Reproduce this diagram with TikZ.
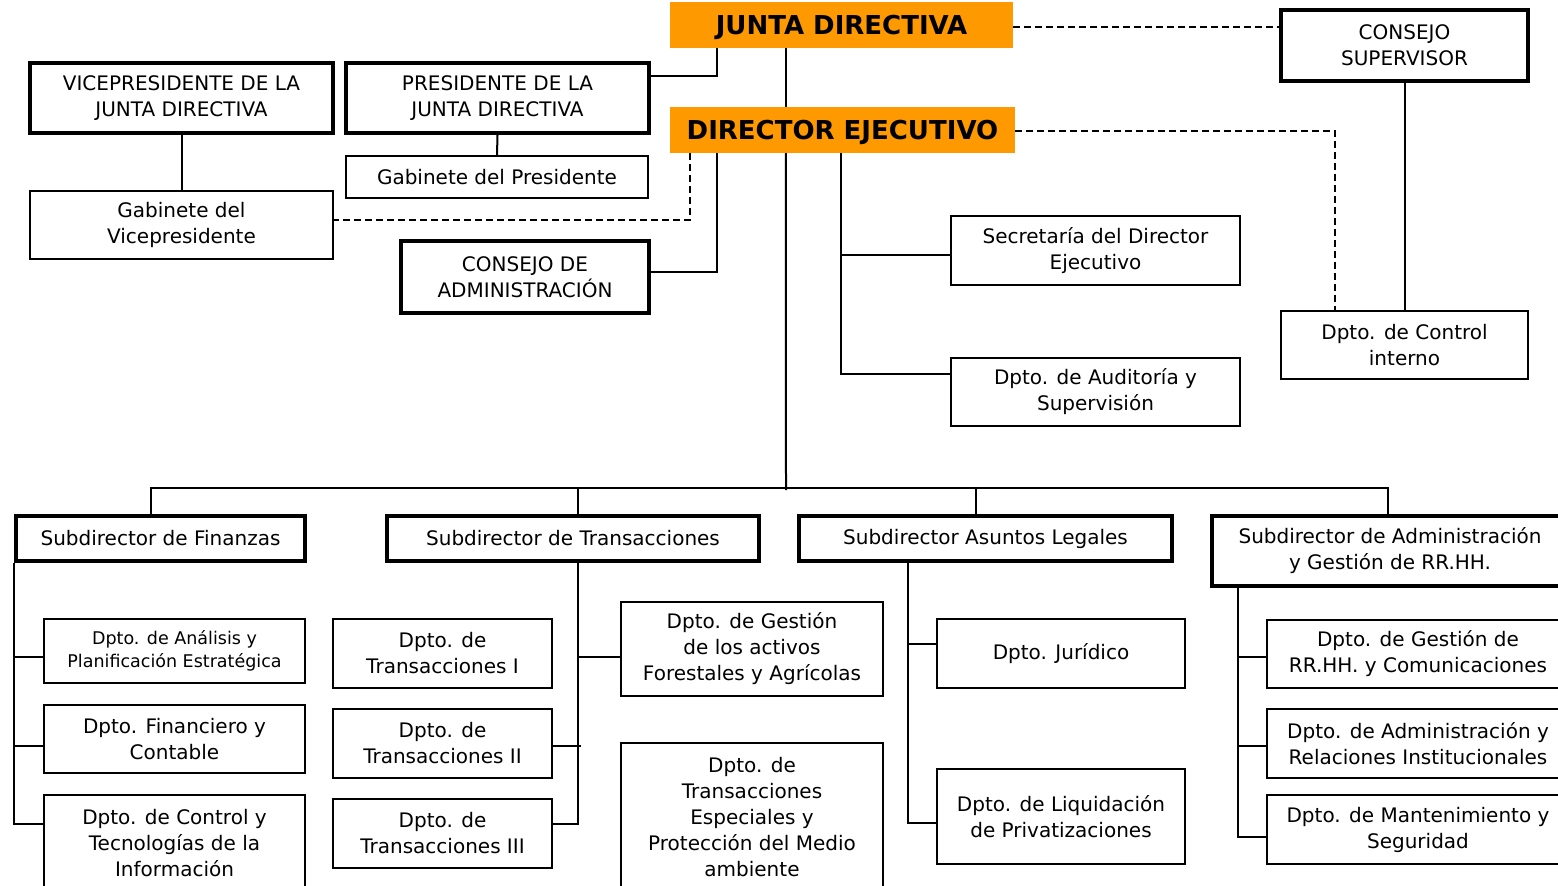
\documentclass[tikz,border=0pt]{standalone}
\usepackage{fontspec}
\setmainfont{DejaVu Sans}
\definecolor{orangeC}{HTML}{FF9900}
\tikzset{
  base/.style={inner sep=0pt, align=center, font=\fontsize{20}{26}\selectfont, fill=white},
  thinbox/.style={base, draw, line width=2pt},
  thickbox/.style={base, draw, line width=4pt},
  orangebox/.style={base, fill=orangeC, font=\fontsize{26}{30}\selectfont\bfseries, text height=19pt, text depth=0pt},
  conn/.style={line width=2pt},
  dconn/.style={line width=2pt, dash pattern=on 7pt off 4pt},
}
\newcommand\bx[7]{\node[#6, minimum width={(#4)-(#2)}, minimum height={(#5)-(#3)}] (#1) at ({((#2)+(#4))/2},{((#3)+(#5))/2}) {#7};}
\begin{document}
\begin{tikzpicture}[x=1pt,y=-1pt]
\useasboundingbox (0,0) rectangle (1558,886);
\fill[white] (0,0) rectangle (1558,886);
\clip (0,0) rectangle (1558,886);
% top
\bx{junta}{670}{2}{1013}{48}{orangebox}{JUNTA DIRECTIVA}
\bx{dir}{670}{107}{1015}{153}{orangebox}{DIRECTOR EJECUTIVO}
\bx{csup}{1281}{10}{1528}{81}{thickbox}{CONSEJO\\SUPERVISOR}
\bx{vice}{30}{63}{333}{133}{thickbox}{VICEPRESIDENTE DE LA\\JUNTA DIRECTIVA}
\bx{pres}{346}{63}{649}{133}{thickbox}{PRESIDENTE DE LA\\JUNTA DIRECTIVA}
\bx{gabp}{346}{156}{648}{198}{thinbox}{Gabinete del Presidente}
\bx{gabv}{30}{191}{333}{259}{thinbox}{Gabinete del\\Vicepresidente}
\bx{cadm}{401}{241}{649}{313}{thickbox}{CONSEJO DE\\ADMINISTRACIÓN}
\bx{sec}{951}{216}{1240}{285}{thinbox}{Secretaría del Director\\Ejecutivo}
\bx{aud}{951}{358}{1240}{426}{thinbox}{Dpto. de Auditoría y\\Supervisión}
\bx{cint}{1281}{311}{1528}{379}{thinbox}{Dpto. de Control\\interno}
% subdirectors
\bx{fin}{16}{516}{305}{561}{thickbox}{Subdirector de Finanzas}
\bx{trans}{387}{516}{759}{561}{thickbox}{Subdirector de Transacciones}
\bx{legal}{799}{516}{1172}{561}{thickbox}{Subdirector Asuntos Legales}
\bx{adm}{1212}{516}{1568}{586}{thickbox}{Subdirector de Administración\\y Gestión de RR.HH.}
% departments
\bx{fa}{44}{619}{305}{683}{thinbox,font=\fontsize{17.5}{23}\selectfont}{Dpto. de Análisis y\\Planificación Estratégica}
\bx{ff}{44}{705}{305}{773}{thinbox}{Dpto. Financiero y\\Contable}
\bx{fc}{44}{795}{305}{891}{thinbox}{Dpto. de Control y\\Tecnologías de la\\Información}
\bx{t1}{333}{619}{552}{688}{thinbox}{Dpto. de\\Transacciones I}
\bx{t2}{333}{709}{552}{778}{thinbox}{Dpto. de\\Transacciones II}
\bx{t3}{333}{799}{552}{868}{thinbox}{Dpto. de\\Transacciones III}
\bx{gest}{621}{602}{883}{696}{thinbox}{Dpto. de Gestión\\de los activos\\Forestales y Agrícolas}
\bx{esp}{621}{743}{883}{891}{thinbox}{Dpto. de\\Transacciones\\Especiales y\\Protección del Medio\\ambiente}
\bx{jur}{937}{619}{1185}{688}{thinbox}{Dpto. Jurídico}
\bx{liq}{937}{769}{1185}{864}{thinbox}{Dpto. de Liquidación\\de Privatizaciones}
\bx{a1}{1267}{620}{1569}{688}{thinbox}{Dpto. de Gestión de\\RR.HH. y Comunicaciones}
\bx{a2}{1267}{709}{1569}{778}{thinbox}{Dpto. de Administración y\\Relaciones Institucionales}
\bx{a3}{1267}{795}{1569}{864}{thinbox}{Dpto. de Mantenimiento y\\Seguridad}
\coordinate (bus) at (786,490);
% connectors top
\draw[conn] ([xshift=47]junta.south west) |- ([yshift=-15]pres.north east);
\draw[conn] ([xshift=116]junta.south west) -- ([xshift=116]dir.north west);
\draw[conn] ([xshift=116]dir.south west) -- (bus);
\draw[conn] ([xshift=47]dir.south west) |- ([yshift=5]cadm.east);
\draw[dconn] ([xshift=20]dir.south west) |- ([yshift=5]gabv.east);
\draw[conn] ([xshift=171]dir.south west) |- ([yshift=-17]aud.north west);
\draw[conn] ([yshift=-4]sec.west) -- ++(-110,0);
\draw[dconn] ([yshift=-2]junta.east) -- ([yshift=-2]csup.west |- junta.east);
\draw[dconn] ([yshift=-1]dir.east) -| ([xshift=55]cint.north west);
\draw[conn] (csup.south) -- (cint.north);
\draw[conn] (vice.south) -- (gabv.north);
\draw[conn] (pres.south) -- (gabp.north);
% bus
\draw[conn] ([xshift=137]fin.north west) -- ++(0,-26) -| ([xshift=178]adm.north west);
\draw[conn] ([xshift=193]trans.north west) -- ++(0,-26);
\draw[conn] ([xshift=179]legal.north west) -- ++(0,-26);
% finance
\draw[conn] (fin.south west) |- ([yshift=-30]fc.north west);
\draw[conn] ([yshift=-39]fa.north west) -- ++(-28,0);
\draw[conn] ([yshift=-42]ff.north west) -- ++(-28,0);
% transactions
\draw[conn] ([xshift=193]trans.south west) |- ([yshift=-26]t3.north east);
\draw[conn] ([yshift=-38]t2.north east) -- ++(28,0);
\draw[conn] ([yshift=-56]gest.north west) -- ++(-41,0);
% legal
\draw[conn] ([xshift=111]legal.south west) |- ([yshift=-55]liq.north west);
\draw[conn] ([yshift=-26]jur.north west) -- ++(-27,0);
% admin
\draw[conn] ([xshift=28]adm.south west) |- ([yshift=-43]a3.north west);
\draw[conn] ([yshift=-38]a1.north west) -- ++(-27,0);
\draw[conn] ([yshift=-38]a2.north west) -- ++(-27,0);
\end{tikzpicture}
\end{document}
